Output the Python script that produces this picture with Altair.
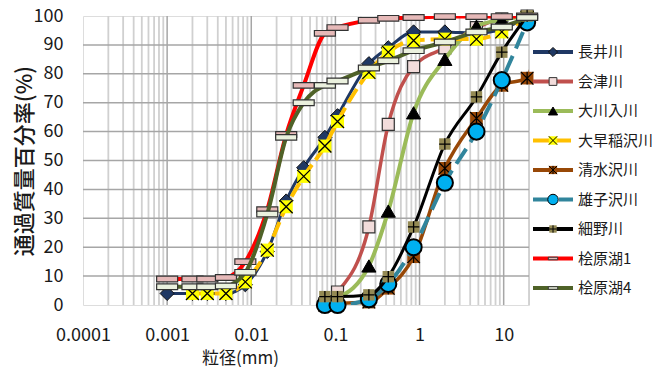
import altair as alt
import pandas as pd

FONT = "Noto Sans CJK JP"

SERIES = ["長井川", "会津川", "大川入川", "大早稲沢川", "清水沢川", "雄子沢川", "細野川", "桧原湖1", "桧原湖4"]

FINE_X = [0.001, 0.002, 0.003, 0.005, 0.0085, 0.0155, 0.026, 0.042, 0.075, 0.106,
          0.25, 0.425, 0.85, 2.0, 4.75, 9.5, 19.0]
SIEVE_X = [0.075, 0.106, 0.25, 0.425, 0.85, 2.0, 4.75, 9.5, 19.0]

NAGAI = [4, 4, 4, 4, 7, 18.5, 36, 47.5, 58, 65.5, 83.5, 89, 94.5, 94.5, 94, 95.5, 99.5]
AIZU = [0.5, 4.5, 27, 62.5, 82.5, 89, 96, 99, 100]
OKAWAIRI = [1.5, 2.5, 13.5, 32.5, 66.5, 85, 96.5, 98.7, 100]
OHAYA_X = [0.002, 0.003, 0.005, 0.0085, 0.0155, 0.026, 0.042, 0.075, 0.106,
           0.25, 0.425, 0.85, 2.0, 4.75, 9.5, 19.0]
OHAYA = [4, 4, 4, 8, 19, 34, 44.5, 55, 63.5, 80.5, 87.5, 91.5, 92, 92, 94.5, 99.5]
SHIMIZU_X = [0.075, 0.106, 0.25, 0.425, 0.85, 2.0, 4.75, 9.5, 19.0, 26.5]
SHIMIZU = [0, 0.5, 1, 5.8, 16.7, 47.3, 64.6, 76, 78.5, 100]
OSHI = [0, 0, 2, 7.3, 20, 42.3, 60, 77.8, 97.8]
HOSONO = [2.9, 2.9, 3.5, 9.8, 27, 55.7, 72, 87.5, 100]
HIBARA1 = [9, 9, 9, 9.5, 15, 33, 59, 76, 94, 96, 98.5, 99.2, 99.5, 99.8, 99.8, 99.8, 100]
HIBARA4 = [6.3, 6.3, 6.3, 6.6, 11.3, 31.5, 58, 70, 76, 77.5, 82, 84.5, 88, 91, 94.5, 96.2, 99.5]

SERIES_X = [FINE_X, SIEVE_X, SIEVE_X, OHAYA_X, SHIMIZU_X, SIEVE_X, SIEVE_X, FINE_X, FINE_X]
SERIES_Y = [NAGAI, AIZU, OKAWAIRI, OHAYA, SHIMIZU, OSHI, HOSONO, HIBARA1, HIBARA4]

X_TICKS = [0.0001, 0.001, 0.01, 0.1, 1, 10]
Y_TICKS = [0, 10, 20, 30, 40, 50, 60, 70, 80, 90, 100]
X_MAJOR = [0.001, 0.01, 0.1, 1, 10]
X_MINOR = [m * 10.0 ** e for e in range(-4, 2) for m in range(2, 10) if m * 10.0 ** e <= 20]
Y_GRID = [10, 20, 30, 40, 50, 60, 70, 80, 90]

X_PATH = "M-1,-1L1,1M-1,1L1,-1"
STAR_PATH = "M-1,-1L1,1M-1,1L1,-1M0,-1L0,1"
PLUS_PATH = "M0,-1L0,1M-1,0L1,0"
BAR_PATH = "M-1,-0.27L1,-0.27L1,0.27L-1,0.27Z"

# style per series: line colour, width, dash, marker layers (shape, size, fill, stroke, strokeWidth)
STYLE = [
    dict(color="#1F3864", width=3, dash=None,
         marks=[("diamond", 200, "#1F3864", "#111111", 1)]),
    dict(color="#C0504D", width=3.5, dash=None,
         marks=[("square", 144, "#F2DCDB", "#333333", 1.2)]),
    dict(color="#9BBB59", width=4, dash=None,
         marks=[("triangle-up", 200, "#000000", "#000000", 1)]),
    dict(color="#FFC000", width=4, dash=[16, 6],
         marks=[("square", 169, "#FFFF00", None, 0), (X_PATH, 169, None, "#000000", 1.3)]),
    dict(color="#984807", width=3.5, dash=None,
         marks=[("square", 160, "#984807", None, 0), (STAR_PATH, 160, None, "#000000", 1.2)]),
    dict(color="#31859C", width=4, dash=[18, 8],
         marks=[("circle", 260, "#00B0F0", "#000000", 2)]),
    dict(color="#000000", width=3, dash=None,
         marks=[("square", 130, "#948A54", None, 0), (PLUS_PATH, 130, None, "#000000", 1.3)]),
    dict(color="#FF0000", width=4, dash=None,
         marks=[(BAR_PATH, 441, "#E6B9B8", "#333333", 1.2)]),
    dict(color="#4F6228", width=4, dash=None,
         marks=[(BAR_PATH, 441, "#EBF1DE", "#333333", 1.2)]),
]

XS = alt.Scale(type="log", domain=[0.0001, 20], nice=False)
YS = alt.Scale(domain=[0, 100], nice=False, zero=True)

XAXIS = alt.Axis(values=X_TICKS, format="~g", ticks=False, tickSize=0, domain=False, grid=False,
                 labelFont=FONT, labelFontSize=18, labelColor="#1a1a1a", labelPadding=30,
                 labelBaseline="middle", labelFlush=False, labelOverlap=False,
                 title="粒径(mm)", titleFont=FONT, titleFontSize=17, titleFontWeight="normal",
                 titleColor="#1a1a1a", titleX=157, titleY=53, titleAlign="center",
                 titleBaseline="middle")
YAXIS = alt.Axis(values=Y_TICKS, ticks=False, tickSize=0, domain=False, grid=False,
                 labelFont=FONT, labelFontSize=18, labelColor="#1a1a1a", labelPadding=20,
                 labelOverlap=False,
                 title="通過質量百分率(%)", titleFont=FONT, titleFontSize=22,
                 titleFontWeight=500, titleColor="#1a1a1a", titleX=-59, titleY=144.5,
                 titleAngle=270, titleAlign="center", titleBaseline="middle")

X = alt.X("x:Q", scale=XS, axis=XAXIS)
Y = alt.Y("y:Q", scale=YS, axis=YAXIS)

layers = []
minor_df = pd.DataFrame({"x": X_MINOR})
major_df = pd.DataFrame({"x": X_MAJOR})
hgrid_df = pd.DataFrame({"y": Y_GRID})
layers.append(alt.Chart(minor_df).mark_rule(color="#D0D0D0", strokeWidth=1.8).encode(x=X))
layers.append(alt.Chart(major_df).mark_rule(color="#A6A6A6", strokeWidth=1.5).encode(x=X))
layers.append(alt.Chart(hgrid_df).mark_rule(color="#A6A6A6", strokeWidth=1.5).encode(y=Y))

for name, xs, ys, st in zip(SERIES, SERIES_X, SERIES_Y, STYLE):
    df = pd.DataFrame({"x": xs, "y": ys, "name": name})
    base = alt.Chart(df)
    line_kw = dict(color=st["color"], strokeWidth=st["width"], interpolate="monotone", clip=True)
    if st["dash"]:
        line_kw["strokeDash"] = st["dash"]
    layers.append(base.mark_line(**line_kw).encode(x=X, y=Y))
    for shape, size, fill, stroke, sw in st["marks"]:
        kw = dict(shape=shape, size=size, opacity=1)
        if fill:
            kw["filled"] = True
            kw["fill"] = fill
        else:
            kw["filled"] = False
            kw["fill"] = "transparent"
        if stroke:
            kw["stroke"] = stroke
            kw["strokeWidth"] = sw
        else:
            kw["strokeWidth"] = 0
        layers.append(base.mark_point(**kw).encode(x=X, y=Y).transform_filter("datum.x <= 20"))

main = alt.layer(*layers)

# legend (drawn in the right margin)
LY = alt.Y("name:N", scale=alt.Scale(type="point", domain=SERIES, range=[36, 272], padding=0), axis=None)
leg_layers = []
for name, st in zip(SERIES, STYLE):
    ldf = pd.DataFrame({"name": [name]})
    lb = alt.Chart(ldf)
    rk = dict(color=st["color"], strokeWidth=4)
    if st["dash"]:
        rk["strokeDash"] = st["dash"]
    leg_layers.append(lb.mark_rule(**rk).encode(x=alt.value(450), x2=alt.value(490), y=LY))
    for shape, size, fill, stroke, sw in st["marks"]:
        lsize = size * 0.42 if shape != BAR_PATH else size * 0.2
        kw = dict(shape=shape, size=lsize, opacity=1)
        if fill:
            kw["filled"] = True
            kw["fill"] = fill
        else:
            kw["filled"] = False
            kw["fill"] = "transparent"
        if stroke:
            kw["stroke"] = stroke
            kw["strokeWidth"] = min(sw, 1)
        else:
            kw["strokeWidth"] = 0
        leg_layers.append(lb.mark_point(**kw).encode(x=alt.value(470), y=LY))

text_df = pd.DataFrame({"name": SERIES})
leg_layers.append(alt.Chart(text_df).mark_text(align="left", baseline="middle", font=FONT,
                                                fontSize=15, color="#1a1a1a")
                  .encode(x=alt.value(495), y=LY, text="name:N"))
legend = alt.layer(*leg_layers)

chart = (alt.layer(main, legend)
         .resolve_scale(y="independent")
         .properties(width=446, height=289,
                     padding={"left": 83, "top": 16, "right": 136, "bottom": 62},
                     autosize=alt.AutoSizeParams(type="none"))
         .configure_view(stroke="#000000", strokeWidth=3)
         .configure(background="white"))

chart.save("out.html", embed_options={"renderer": "svg", "actions": False})
